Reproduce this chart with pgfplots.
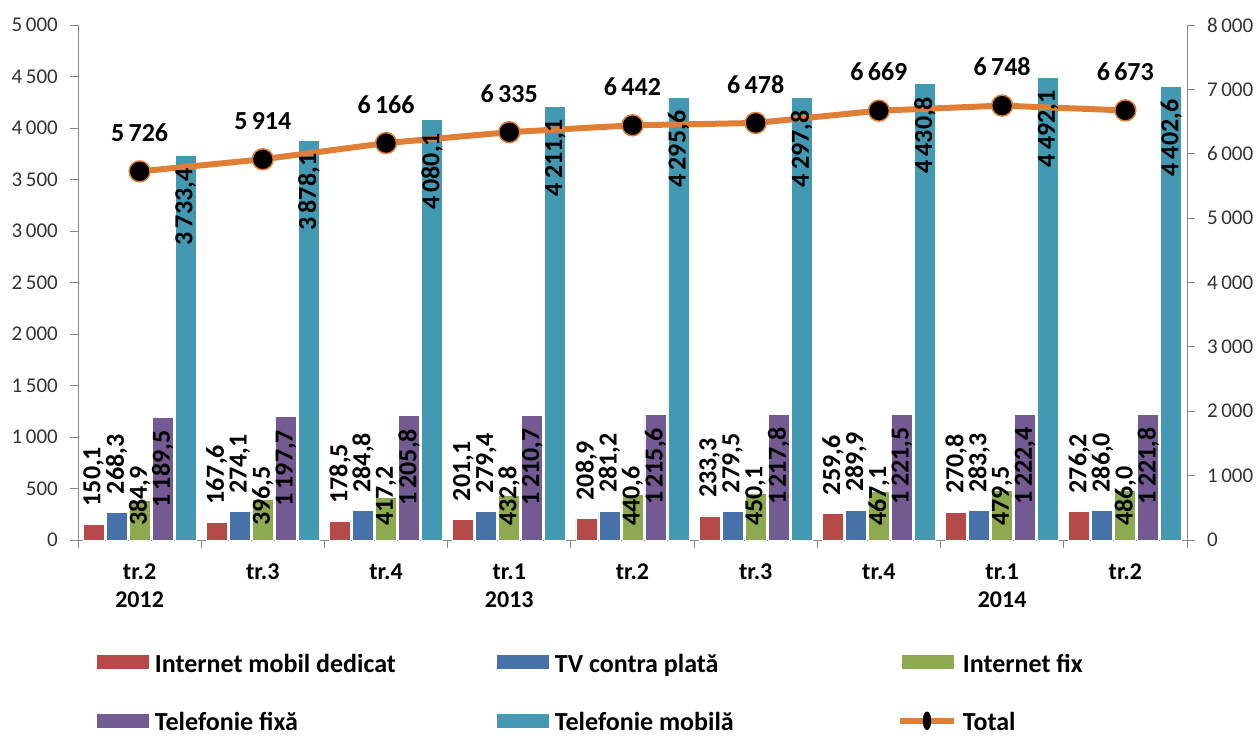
\documentclass[border=0pt]{standalone}
\usepackage{fontspec}
\setmainfont{Carlito}
\usepackage{pgfplots}
\usepackage{pgfplotstable}
\pgfplotsset{compat=1.18}
\definecolor{cRed}{HTML}{B64A48}
\definecolor{cBlue}{HTML}{4671A9}
\definecolor{cGreen}{HTML}{8DAA51}
\definecolor{cPurple}{HTML}{745A92}
\definecolor{cTeal}{HTML}{4399B1}
\definecolor{cOrange}{HTML}{E07E36}
\definecolor{axisgray}{HTML}{888888}
\definecolor{ticktext}{HTML}{333333}
\newcommand{\lblfont}{\bfseries\fontsize{26}{30}\selectfont}
\pgfplotstableread{
x red blue green purple teal total
0 150.1 268.3 384.9 1189.5 3733.4 5726
1 167.6 274.1 396.5 1197.7 3878.1 5914
2 178.5 284.8 417.2 1205.8 4080.1 6166
3 201.1 279.4 432.8 1210.7 4211.1 6335
4 208.9 281.2 440.6 1215.6 4295.6 6442
5 233.3 279.5 450.1 1217.8 4297.8 6478
6 259.6 289.9 467.1 1221.5 4430.8 6669
7 270.8 283.3 479.5 1222.4 4492.1 6748
8 276.2 286.0 486.0 1221.8 4402.6 6673
}\data
\pgfplotsset{
  common/.style={
    at={(0pt,0pt)}, anchor=south west,
    scale only axis, width=1109pt, height=515pt,
    xmin=-0.5, xmax=8.5, clip=false,
    axis line style={draw=axisgray, line width=0.8pt, -},
    tick align=outside, major tick length=8pt, minor tick length=8pt,
    tick style={draw=axisgray, line width=0.8pt},
    scaled y ticks=false,
  },
}
\begin{document}
\begin{tikzpicture}
% bars
\begin{axis}[
  common,
  ymin=0, ymax=5000,
  axis x line*=bottom, axis y line*=left,
  ybar=2pt, bar width=21pt,
  xtick={0,1,2,3,4,5,6,7,8},
  xticklabels={{tr.2\\2012},{tr.3},{tr.4},{tr.1\\2013},{tr.2},{tr.3},{tr.4},{tr.1\\2014},{tr.2}},
  minor xtick={-0.5,0.5,1.5,2.5,3.5,4.5,5.5,6.5,7.5,8.5},
  major x tick style={draw=none},
  ytick={0,500,...,5000},
  yticklabel style={font=\fontsize{21}{24}\selectfont, text=ticktext, inner sep=0pt, xshift=-12pt,
    /pgf/number format/1000 sep={\,}, /pgf/number format/assume math mode=true},
  xticklabel style={font=\bfseries\fontsize{24}{28}\selectfont, align=center, inner sep=0pt, yshift=-16pt},
  legend image code/.code={\draw[#1, draw=none] (0pt,-7pt) rectangle (52pt,7pt);},
  legend columns=3,
  legend cell align=left,
  legend style={at={(0,0)}, anchor=north west, xshift=19pt, yshift=-111pt,
    draw=none, fill=none, inner sep=0pt, outer sep=0pt, row sep=36pt,
    font=\bfseries\fontsize{26}{30}\selectfont,
    nodes={inner sep=0pt},
    /tikz/every odd column/.append style={column sep=6pt},
    /tikz/every even column/.append style={column sep=0pt}},
]
\addplot[fill=cRed, draw=white, line width=0.8pt] table[x=x, y=red] {\data};
\addlegendentry{\makebox[342pt][l]{\strut Internet mobil dedicat}}
\addplot[fill=cBlue, draw=white, line width=0.8pt] table[x=x, y=blue] {\data};
\addlegendentry{\makebox[342pt][l]{\strut TV contra plată}}
\addplot[fill=cGreen, draw=white, line width=0.8pt] table[x=x, y=green] {\data};
\addlegendentry{\makebox[342pt][l]{\strut Internet fix}}
\addplot[fill=cPurple, draw=white, line width=0.8pt] table[x=x, y=purple] {\data};
\addlegendentry{\makebox[342pt][l]{\strut Telefonie fixă}}
\addplot[fill=cTeal, draw=white, line width=0.8pt] table[x=x, y=teal] {\data};
\addlegendentry{\makebox[342pt][l]{\strut Telefonie mobilă}}
\addlegendimage{legend image code/.code={
  \draw[cOrange, line width=6pt] (-2pt,0pt) -- (52pt,0pt);
  \fill[black] (25pt,0pt) ellipse (4pt and 9pt);}}
\addlegendentry{\makebox[342pt][l]{\strut Total}}
\end{axis}
% total line
\begin{axis}[
  common,
  ymin=0, ymax=8000,
  axis x line=none, axis y line*=right,
  ytick={0,1000,...,8000},
  yticklabel style={font=\fontsize{21}{24}\selectfont, text=ticktext, inner sep=0pt, xshift=12pt,
    /pgf/number format/1000 sep={\,}, /pgf/number format/assume math mode=true},
]
\addplot[cOrange, line width=6pt, mark=*, mark size=10.5pt,
  mark options={fill=black, draw=cOrange, line width=1.5pt},
  nodes near coords,
  every node near coord/.append style={font=\lblfont, text=black, inner sep=0pt, anchor=south, yshift=29pt,
    /pgf/number format/fixed, /pgf/number format/precision=0,
    /pgf/number format/1000 sep={\,}, /pgf/number format/assume math mode=true}]
  table[x=x, y=total] {\data};
\end{axis}
% bar value labels, on top
\begin{axis}[
  common,
  ymin=0, ymax=5000,
  hide axis,
  ybar=2pt, bar width=21pt,
  nodes near coords,
  every node near coord/.append style={font=\lblfont, text=black, inner sep=0pt,
    /pgf/number format/fixed, /pgf/number format/fixed zerofill, /pgf/number format/precision=1,
    /pgf/number format/use comma, /pgf/number format/1000 sep={\,},
    /pgf/number format/assume math mode=true},
]
\addplot[fill=none, draw=none,
  nodes near coords style={yshift=18pt, rotate=90, anchor=west}]
  table[x=x, y=red] {\data};
\addplot[fill=none, draw=none,
  nodes near coords style={yshift=18pt, rotate=90, anchor=west}]
  table[x=x, y=blue] {\data};
\addplot[fill=none, draw=none,
  visualization depends on=rawy \as \rawy,
  nodes near coords style={yshift={14pt-\rawy*0.103pt}, rotate=90, anchor=west}]
  table[x=x, y=green] {\data};
\addplot[fill=none, draw=none,
  nodes near coords style={yshift=-13pt, rotate=90, anchor=east}]
  table[x=x, y=purple] {\data};
\addplot[fill=none, draw=none,
  nodes near coords style={yshift=-13pt, rotate=90, anchor=east}]
  table[x=x, y=teal] {\data};
\end{axis}
\pgfresetboundingbox
\useasboundingbox (-78pt,-200pt) rectangle (1180pt,540pt);
\end{tikzpicture}
\end{document}
